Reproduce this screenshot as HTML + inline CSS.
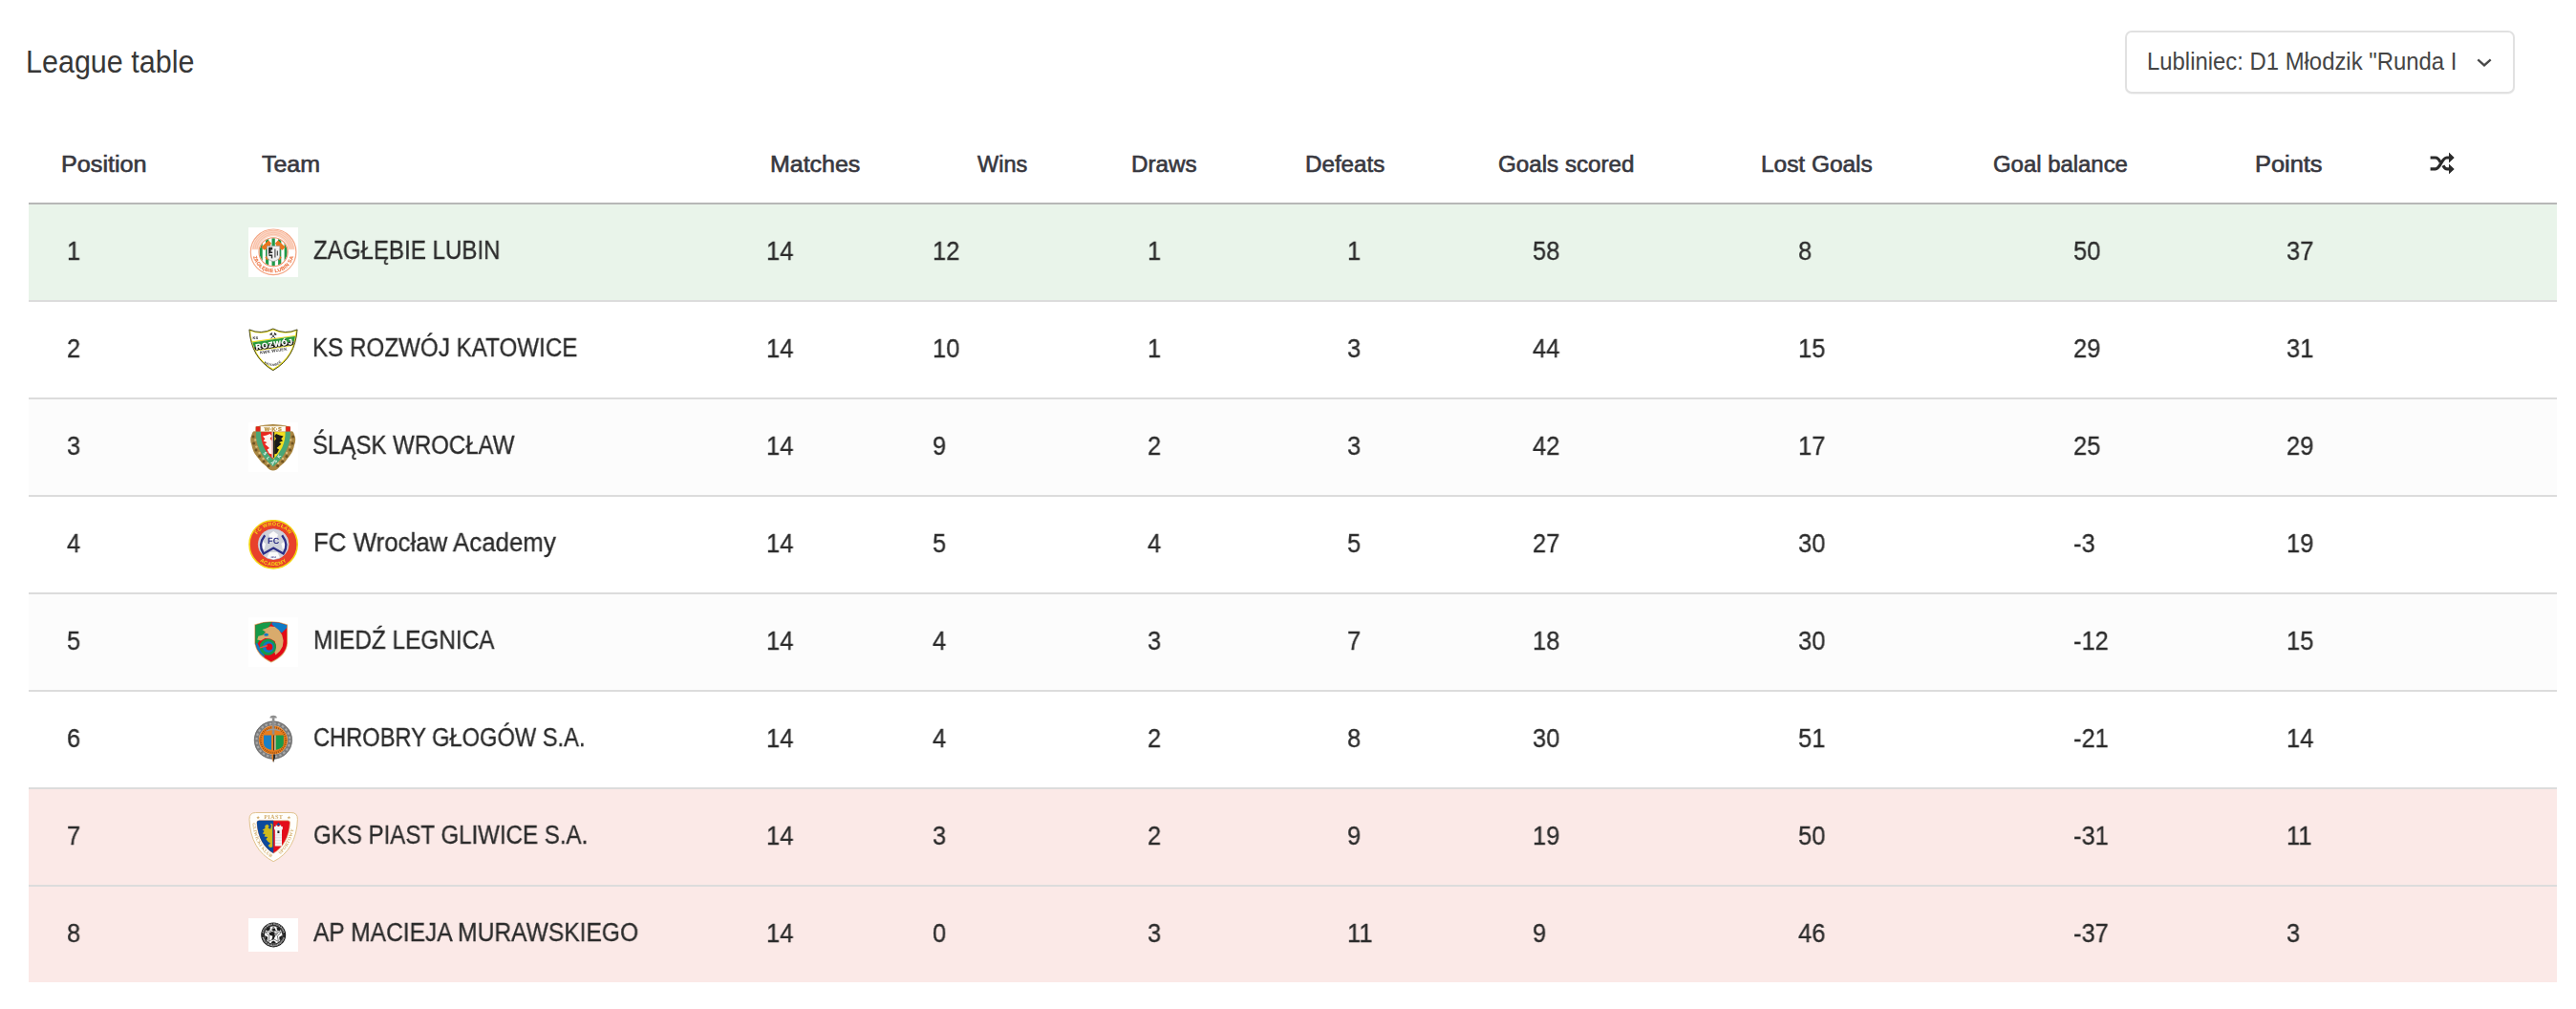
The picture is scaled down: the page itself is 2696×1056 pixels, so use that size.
<!DOCTYPE html>
<html lang="en"><head><meta charset="utf-8"><title>League table</title>
<style>
html,body{margin:0;padding:0;background:#fff}
body{width:2696px;height:1056px;position:relative;overflow:hidden;font-family:"Liberation Sans",sans-serif;color:#2d2d2d}
.t{position:absolute;white-space:nowrap;line-height:1;transform-origin:0 50%;margin:0;font-weight:400}
h2.t{font-size:33.8px;color:#373737}
.sel{position:absolute;left:2224px;top:32px;width:404px;height:62px;border:2px solid #e1e1e1;border-radius:7px;background:#fff;box-shadow:0 1px 1px rgba(0,0,0,.04)}
.sel .t{font-size:25.1px;color:#454545}
.sel svg{position:absolute;left:366px;top:27.2px}
table,thead,tbody,tr,th,td{display:block;margin:0;padding:0;border:0;border-spacing:0;text-align:left}
.tbl{position:absolute;left:30px;top:110px;width:2646px;border-collapse:collapse}
td.tm{display:contents}
.hd{position:absolute;left:0;top:0;width:2646px;height:102px;border-bottom:2px solid #b7b7b7}
.hd .t{font-size:24.4px;color:#38383f;-webkit-text-stroke:0.65px #38383f}
.r{position:absolute;left:0;width:2646px;height:100px;border-bottom:2px solid #dcdcdc}
.r.last{border-bottom:none}
.r .t{font-size:26.8px;top:35.5px;color:#2b2b2b;-webkit-text-stroke:0.3px #2b2b2b}.r .nm{top:34.5px}
.r .lg{position:absolute;left:230px;top:24px}.lg text{text-rendering:geometricPrecision}.r .t,.r .lg{will-change:transform}.r .lw{top:33px}
.g{background:#e9f4ea}.w{background:#fff}.s{background:#fcfcfc}.p{background:#fbe9e7}
</style></head>
<body>
<h2 class="t" style="left:27.10px;top:47.50px;transform:scaleX(0.9024)">League table</h2>
<div class="sel"><span class="t" style="left:21.00px;top:17.75px;transform:scaleX(0.9515)">Lubliniec: D1 Młodzik "Runda I</span><svg width="16" height="10" viewBox="0 0 16 10"><path d="M1.3 1.3 L8 7.4 L14.7 1.3" fill="none" stroke="#484848" stroke-width="2.3"/></svg></div>
<table class="tbl">
<thead><tr class="hd">
<th class="t" style="left:34.00px;top:49.70px;transform:scaleX(1.0321)">Position</th>
<th class="t" style="left:243.80px;top:49.70px;transform:scaleX(1.0227)">Team</th>
<th class="t" style="left:776.20px;top:49.70px;transform:scaleX(1.0221)">Matches</th>
<th class="t" style="left:993.30px;top:49.70px;transform:scaleX(0.9632)">Wins</th>
<th class="t" style="left:1154.20px;top:49.70px;transform:scaleX(0.9913)">Draws</th>
<th class="t" style="left:1335.90px;top:49.70px;transform:scaleX(0.9904)">Defeats</th>
<th class="t" style="left:1537.80px;top:49.70px;transform:scaleX(0.9916)">Goals scored</th>
<th class="t" style="left:1812.50px;top:49.70px;transform:scaleX(1.0008)">Lost Goals</th>
<th class="t" style="left:2056.40px;top:49.70px;transform:scaleX(0.9803)">Goal balance</th>
<th class="t" style="left:2330.30px;top:49.70px;transform:scaleX(1.0406)">Points</th>
<th class="ic"><svg class="ic" width="30" height="28" viewBox="0 0 30 28" style="position:absolute;left:2511px;top:48px"><g fill="none" stroke="#2b2b2b" stroke-width="3.2" stroke-linecap="butt"><path d="M2.6 18.9h5.2c5.2 0 6.6-11.9 12-11.9h3"/><path d="M2.6 7h5.2c2.6 0 4.2 2.4 5.3 4.7"/><path d="M15.9 15.2c1.1 2.1 2.3 3.7 4.4 3.7h2.5"/></g><path d="M22 1.6l5.7 5.4-5.7 5.4zM22 13.5l5.7 5.4-5.7 5.4z" fill="#2b2b2b"/></svg></th>
</tr></thead><tbody>
<tr class="r g" style="top:104px">
<td class="t" style="left:39.80px;transform:scaleX(0.9500)">1</td>
<td class="tm"><svg class="lg" width="52" height="52" viewBox="0 0 52 52"><rect width="52" height="52" fill="#fff"/>
<defs><clipPath id="z1"><circle cx="26.1" cy="25.8" r="14.6"/></clipPath><path id="z1t" d="M4.9 29.3A21.5 21.5 0 0 0 47.3 29.3"/></defs>
<circle cx="26.1" cy="25.8" r="23.8" fill="#fff" stroke="#f4a684" stroke-width="1.2"/>
<path d="M3.6 23.2A22.6 22.6 0 0 1 48.6 23.2L41.6 23.2A15.6 15.6 0 0 0 10.6 23.2Z" fill="#fbd5c3"/>
<g fill="none" stroke="#f7b79c" stroke-width="0.7"><path d="M5 22.5A21.2 21.2 0 0 1 47.2 22.5"/><path d="M7 22.5A19.2 19.2 0 0 1 45.2 22.5"/><path d="M9 22.5A17.2 17.2 0 0 1 43.2 22.5"/></g>
<g clip-path="url(#z1)"><rect x="10" y="10" width="33" height="32" fill="#fff"/><g fill="#1e9a49"><rect x="11.4" y="10" width="3.3" height="32"/><rect x="18" y="10" width="3.2" height="32"/><rect x="24.5" y="10" width="3.3" height="32"/><rect x="31.1" y="10" width="3.2" height="32"/><rect x="37.6" y="10" width="3.3" height="32"/></g></g>
<circle cx="26.1" cy="25.8" r="15.1" fill="none" stroke="#f0946c" stroke-width="1.1"/>
<g fill="#e8761f"><path d="M13.4 20.6L21 13.4L24 16.6L22.6 19.4L34.6 31.4L32.6 34.6L20 22L16.4 23.8Z"/><path d="M38.6 20.6L31 13.4L28 16.6L29.4 19.4L17.4 31.4L19.4 34.6L32 22L35.6 23.8Z"/></g>
<path d="M19.5 19.4H32.8V30.4Q32.8 34 26.1 35.6Q19.5 34 19.5 30.4Z" fill="#f1f1f1" stroke="#8f8f8f" stroke-width="0.6"/>
<path d="M21 20.8H25.2V23.6H23.6V25.4H25.2V27H22.2V28.6H25.2V32.6L23.8 32.2V30H21.4V27.6H21ZM27.4 22.6H28.4V31.4H27.4ZM29.8 24.6H30.8V29.6H29.8Z" fill="#2e2e2e"/>
<text font-family="Liberation Sans, sans-serif" font-weight="700" font-size="5.3" fill="#ee7544" stroke="#ee7544" stroke-width="0.12" letter-spacing="0.25"><textPath href="#z1t" startOffset="50%" text-anchor="middle">ZAGŁĘBIE LUBIN SA</textPath></text>
</svg><span class="t nm" style="left:298.00px;transform:scaleX(0.8992)">ZAGŁĘBIE LUBIN</span></td>
<td class="t" style="left:771.95px;transform:scaleX(0.9500)">14</td>
<td class="t" style="left:946.05px;transform:scaleX(0.9500)">12</td>
<td class="t" style="left:1171.35px;transform:scaleX(0.9500)">1</td>
<td class="t" style="left:1380.45px;transform:scaleX(0.9500)">1</td>
<td class="t" style="left:1573.80px;transform:scaleX(0.9500)">58</td>
<td class="t" style="left:1852.15px;transform:scaleX(0.9500)">8</td>
<td class="t" style="left:2139.70px;transform:scaleX(0.9500)">50</td>
<td class="t" style="left:2362.60px;transform:scaleX(0.9500)">37</td>
</tr>
<tr class="r w" style="top:206px">
<td class="t" style="left:39.80px;transform:scaleX(0.9500)">2</td>
<td class="tm"><svg class="lg" width="52" height="52" viewBox="0 0 52 52"><rect width="52" height="52" fill="#fff"/>
<defs><clipPath id="r2"><path d="M2.2 6.4Q13.5 11.6 25.8 5.6Q38.2 11.6 49.6 6.4C48.2 24 41 37 25.8 46C10.8 37 3.6 24 2.2 6.4Z"/></clipPath><path id="r2t" d="M13.4 37.4Q25.5 49.5 37.6 36.4"/></defs>
<path d="M0.9 4.9Q13.3 10.6 25.8 4Q38.4 10.6 51.1 4.9C49.6 24.5 42 38.2 25.8 47.7C9.8 38.2 2.3 24.5 0.9 4.9Z" fill="#e9de23" stroke="#3d3d14" stroke-width="0.9"/>
<path d="M2.2 6.4Q13.5 11.6 25.8 5.6Q38.2 11.6 49.6 6.4C48.2 24 41 37 25.8 46C10.8 37 3.6 24 2.2 6.4Z" fill="#fff"/>
<g clip-path="url(#r2)"><path d="M0 17.9L52 10.4V11.5L0 19Z" fill="#e9de23"/><path d="M0 19L52 11.5V16.7L0 24.2Z" fill="#2a9a3c"/><path d="M0 24.2L52 16.7V20.3L0 27.8Z" fill="#1d1d1b"/><path d="M0 27.8L52 20.3V21.1L0 28.6Z" fill="#e9de23"/></g>
<g font-family="Liberation Sans, sans-serif" font-weight="700">
<text x="4.6" y="15.2" font-size="4" fill="#1a1a1a">KS</text>
<text transform="translate(8.5 26.5) rotate(-8.2)" font-size="7.8" fill="#1d1d1b" stroke="#1d1d1b" stroke-width="0.5" letter-spacing="0.85">ROZWÓJ</text>
<text transform="translate(8.1 25.7) rotate(-8.2)" font-size="7.8" fill="#fff" stroke="#fff" stroke-width="0.4" letter-spacing="0.85">ROZWÓJ</text>
<text transform="translate(12.2 30.6) rotate(-8.2)" font-size="4.4" fill="#333" letter-spacing="0.15">KWK WUJEK</text>
<text font-size="3.5" fill="#3a3a3a" letter-spacing="0.25"><textPath href="#r2t" startOffset="50%" text-anchor="middle">KATOWICE</textPath></text></g>
<g stroke="#222" stroke-width="0.9" fill="none"><path d="M23.6 9.3L28.2 14.2M28.2 9.3L23.6 14.2"/><path d="M22.6 10.4L24.8 8.4M29.2 10.4L27 8.4" stroke-width="1.3"/></g>
</svg><span class="t nm" style="left:297.00px;transform:scaleX(0.9031)">KS ROZWÓJ KATOWICE</span></td>
<td class="t" style="left:771.95px;transform:scaleX(0.9500)">14</td>
<td class="t" style="left:946.05px;transform:scaleX(0.9500)">10</td>
<td class="t" style="left:1171.35px;transform:scaleX(0.9500)">1</td>
<td class="t" style="left:1380.45px;transform:scaleX(0.9500)">3</td>
<td class="t" style="left:1573.80px;transform:scaleX(0.9500)">44</td>
<td class="t" style="left:1852.15px;transform:scaleX(0.9500)">15</td>
<td class="t" style="left:2139.70px;transform:scaleX(0.9500)">29</td>
<td class="t" style="left:2362.60px;transform:scaleX(0.9500)">31</td>
</tr>
<tr class="r s" style="top:308px">
<td class="t" style="left:39.80px;transform:scaleX(0.9500)">3</td>
<td class="tm"><svg class="lg" width="52" height="52" viewBox="0 0 52 52"><rect width="52" height="52" fill="#fff"/>
<defs><path id="s3t" d="M10.6 22Q14.600 34.400 25.800 45Q37 34.400 41 22"/></defs>
<path d="M7.4 9.6Q4.6 8 3.4 13Q1 18 3.4 24Q4.6 31 9 36Q13 42 18.6 46Q22 50.6 25.8 50.6Q29.6 50.6 33 46Q38.6 42 42.4 36Q46.8 31 48 24Q50.4 18 48 13Q46.8 8 44 9.6L43.8 4.6Q25.8 -0.6 7.6 4.6Z" fill="#a98642"/>
<g fill="#6f5423"><circle cx="5" cy="15" r="1.5"/><circle cx="5.6" cy="22" r="1.5"/><circle cx="8" cy="29" r="1.5"/><circle cx="11.6" cy="35.4" r="1.5"/><circle cx="16" cy="41" r="1.5"/><circle cx="21" cy="45.6" r="1.5"/><circle cx="30.6" cy="45.6" r="1.5"/><circle cx="35.6" cy="41" r="1.5"/><circle cx="40" cy="35.4" r="1.5"/><circle cx="43.6" cy="29" r="1.5"/><circle cx="46" cy="22" r="1.5"/><circle cx="46.6" cy="15" r="1.5"/></g>
<g fill="#d9bd7c"><circle cx="7.4" cy="18.4" r="1.2"/><circle cx="8.4" cy="25.6" r="1.2"/><circle cx="11.6" cy="32" r="1.2"/><circle cx="15.6" cy="38" r="1.2"/><circle cx="20.4" cy="42.8" r="1.2"/><circle cx="31.2" cy="42.8" r="1.2"/><circle cx="36" cy="38" r="1.2"/><circle cx="40" cy="32" r="1.2"/><circle cx="43.2" cy="25.6" r="1.2"/><circle cx="44.2" cy="18.4" r="1.2"/></g>
<path d="M8 9.4H43.6Q45 30 25.8 46.4Q6.6 30 8 9.4Z" fill="#49a676"/>
<path d="M13 9.6H25.8V38.8Q12.6 27 13 9.6Z" fill="#e8281f"/><path d="M25.8 9.600H38.600Q39 27 25.800 38.800Z" fill="#f4e01f"/>
<path d="M24.6 10H25.8V37.6L24.6 36.6Z" fill="#fff"/><path d="M25.800 10H27.200V36.400L25.800 37.600Z" fill="#1b1b1b"/>
<path d="M15 14.6L19 13.4L22.6 12L24.4 14.4L22.6 17L24.6 19.6L24.600 33.600L21.600 32.600L19.600 28.400L22 27L19.600 24.800L17.200 22.800L19.400 21L15.600 19.400L17.400 17.200Z" fill="#fdf3ee"/>
<path d="M36.600 14.600L32.600 13.400L29 12L27.200 14.400L29 17L27.200 19.600L27.200 33.600L30 32.600L32 28.400L29.600 27L32 24.800L34.400 22.800L32.200 21L36 19.400L34.200 17.200Z" fill="#1b1b1b"/>
<path d="M7.800 4.600H43.800V9.600H7.800Z" fill="#e2231a"/><path d="M12.600 3.800H39V9.800H12.600Z" fill="#fffdf6" stroke="#b48f47" stroke-width="0.5"/>
<g font-family="Liberation Sans, sans-serif" font-weight="700"><text x="25.800" y="8.900" font-size="5.600" text-anchor="middle" fill="#b98f3a" stroke="#b98f3a" stroke-width="0.3" letter-spacing="0.3">W·K·S</text>
<text font-size="4.600" fill="#f2faf4" letter-spacing="3.500"><textPath href="#s3t" startOffset="50%" text-anchor="middle">ŚLĄSK</textPath></text></g>
</svg><span class="t nm" style="left:297.00px;transform:scaleX(0.8967)">ŚLĄSK WROCŁAW</span></td>
<td class="t" style="left:771.95px;transform:scaleX(0.9500)">14</td>
<td class="t" style="left:946.05px;transform:scaleX(0.9500)">9</td>
<td class="t" style="left:1171.35px;transform:scaleX(0.9500)">2</td>
<td class="t" style="left:1380.45px;transform:scaleX(0.9500)">3</td>
<td class="t" style="left:1573.80px;transform:scaleX(0.9500)">42</td>
<td class="t" style="left:1852.15px;transform:scaleX(0.9500)">17</td>
<td class="t" style="left:2139.70px;transform:scaleX(0.9500)">25</td>
<td class="t" style="left:2362.60px;transform:scaleX(0.9500)">29</td>
</tr>
<tr class="r w" style="top:410px">
<td class="t" style="left:39.80px;transform:scaleX(0.9500)">4</td>
<td class="tm"><svg class="lg" width="52" height="52" viewBox="0 0 52 52"><rect width="52" height="52" fill="#fff"/>
<defs><path id="f4a" d="M6.200 26A19.900 19.900 0 0 1 46 26"/><path id="f4b" d="M3.800 26A22.300 22.300 0 0 0 48.400 26"/></defs>
<circle cx="26.100" cy="25.800" r="25.100" fill="#e8412b" stroke="#f3d511" stroke-width="1.600"/>
<circle cx="26.200" cy="25.600" r="15.900" fill="#cfd2da" stroke="#c7d3ea" stroke-width="0.700"/>
<path d="M26.200 12L31 15.400L29.200 21H23.200L21.400 15.400ZM14 22L18 25L16.600 31L12 28ZM38.400 22L34.400 25L35.800 31L40.400 28ZM22 34H30.400L33 39.600L26.200 41.400L19.400 39.600Z" fill="#fafafa"/>
<path d="M17.200 16.200Q9.600 26 15.800 35.400L26.200 29.600L36.600 35.400Q42.800 26 35.200 16.200" fill="none" stroke="#2c2f86" stroke-width="2.300"/>
<g font-family="Liberation Sans, sans-serif" font-weight="700"><text x="26.200" y="24.800" font-size="9" text-anchor="middle" fill="#2c2f86" letter-spacing="0.300">FC</text>
<text x="26.200" y="39.600" font-size="2.400" text-anchor="middle" fill="#2c2f86">2014</text>
<text font-size="5.400" fill="#f6d913" letter-spacing="0.250"><textPath href="#f4a" startOffset="50%" text-anchor="middle">FC WROCŁAW</textPath></text>
<text font-size="5.400" fill="#f6d913" letter-spacing="0.450"><textPath href="#f4b" startOffset="50%" text-anchor="middle">ACADEMY</textPath></text></g>
</svg><span class="t nm" style="left:297.80px;transform:scaleX(0.9647)">FC Wrocław Academy</span></td>
<td class="t" style="left:771.95px;transform:scaleX(0.9500)">14</td>
<td class="t" style="left:946.05px;transform:scaleX(0.9500)">5</td>
<td class="t" style="left:1171.35px;transform:scaleX(0.9500)">4</td>
<td class="t" style="left:1380.45px;transform:scaleX(0.9500)">5</td>
<td class="t" style="left:1573.80px;transform:scaleX(0.9500)">27</td>
<td class="t" style="left:1852.15px;transform:scaleX(0.9500)">30</td>
<td class="t" style="left:2139.70px;transform:scaleX(0.9500)">-3</td>
<td class="t" style="left:2362.60px;transform:scaleX(0.9500)">19</td>
</tr>
<tr class="r s" style="top:512px">
<td class="t" style="left:39.80px;transform:scaleX(0.9500)">5</td>
<td class="tm"><svg class="lg" width="52" height="52" viewBox="0 0 52 52"><rect width="52" height="52" fill="#fff"/>
<defs><clipPath id="m5"><path d="M7.200 8.200Q24 1.800 40.200 8.200V27Q39.400 39.400 23.800 46.400Q9.200 39.400 7.200 27Z"/></clipPath></defs>
<path d="M6.400 7.400Q24 1 41 7.400V27.200Q40.200 40.200 23.800 47.400Q8.400 40.200 6.400 27.200Z" fill="#d9ab6c"/>
<g clip-path="url(#m5)"><rect width="52" height="52" fill="#e20a17"/><path d="M0 0H26L24 6L8 30L0 30Z" fill="#169a48"/><path d="M25.800 0H44L40.200 11L34.800 16.400L24.400 7.600Z" fill="#0e7ac4"/><path d="M0 28.600L9.400 27.200L17.200 40.800L8 46Z" fill="#0e7ac4"/></g>
<path d="M14.400 13L18.800 11.600L23 9.600L27.600 10L32 13.600L35.200 18.400L36.600 24.400L35.800 30.400L32.800 35.600L28.400 39.400L27.200 36L29 30L27.600 25L23 22.600L17.400 22L13 24.400L9.200 23.600L10.400 19.800L15.400 18.600L18 15.600Z" fill="#d9ab6c"/>
<circle cx="20.400" cy="31.200" r="8.600" fill="#169a48"/><circle cx="20.800" cy="31.200" r="5.900" fill="#0e7ac4"/><circle cx="21.800" cy="31" r="3.500" fill="#e20a17"/>
<path d="M11.600 31.400L19.600 28.800L20 30.400L12 32.600Z" fill="#e8503c"/><ellipse cx="18.600" cy="18.200" rx="2.400" ry="1.500" fill="#0e7ac4"/>
</svg><span class="t nm" style="left:297.70px;transform:scaleX(0.9093)">MIEDŹ LEGNICA</span></td>
<td class="t" style="left:771.95px;transform:scaleX(0.9500)">14</td>
<td class="t" style="left:946.05px;transform:scaleX(0.9500)">4</td>
<td class="t" style="left:1171.35px;transform:scaleX(0.9500)">3</td>
<td class="t" style="left:1380.45px;transform:scaleX(0.9500)">7</td>
<td class="t" style="left:1573.80px;transform:scaleX(0.9500)">18</td>
<td class="t" style="left:1852.15px;transform:scaleX(0.9500)">30</td>
<td class="t" style="left:2139.70px;transform:scaleX(0.9500)">-12</td>
<td class="t" style="left:2362.60px;transform:scaleX(0.9500)">15</td>
</tr>
<tr class="r w" style="top:614px">
<td class="t" style="left:39.80px;transform:scaleX(0.9500)">6</td>
<td class="tm"><svg class="lg" width="52" height="52" viewBox="0 0 52 52"><rect width="52" height="52" fill="#fff"/>
<defs><clipPath id="c6"><path d="M16 21.600H36.800V30Q36.800 35.600 26.400 37.400Q16 35.600 16 30Z"/></clipPath></defs>
<circle cx="25.900" cy="26.600" r="17.400" fill="none" stroke="#7c7c7c" stroke-width="4.800"/>
<circle cx="25.900" cy="26.600" r="17.400" fill="none" stroke="#a9a9a9" stroke-width="2.200" stroke-dasharray="2.400 2.150"/>
<circle cx="25.900" cy="26.600" r="19.700" fill="none" stroke="#5c5c5c" stroke-width="0.600"/>
<circle cx="25.900" cy="26.600" r="15" fill="#e87d1e"/>
<circle cx="25.900" cy="26.600" r="13.200" fill="none" stroke="#6b3a10" stroke-width="2" stroke-dasharray="0.800 1.300" opacity="0.75"/>
<path d="M15.800 21.200H37V30Q37 36 26.400 37.800Q15.800 36 15.800 30Z" fill="#e87d1e"/>
<g clip-path="url(#c6)"><rect x="15" y="20" width="9.200" height="19" fill="#1b80c4"/><rect x="28.400" y="20" width="9" height="19" fill="#189a4a"/><rect x="24.200" y="20" width="2" height="19" fill="#e87d1e"/><rect x="26.200" y="20" width="1.200" height="19" fill="#1d1d1b"/><rect x="27.400" y="20" width="1" height="19" fill="#e8e2d8"/></g>
<path d="M24.800 3.200H27.400V20.600H24.800Z" fill="#8e8e8e"/><path d="M22.400 3.400Q22.400 0.800 26.100 0.800Q29.800 0.800 29.800 3.400Z" fill="#8e8e8e"/><path d="M18.600 16.400Q26 12.800 33.600 16.400L33 17.600Q26 14.400 19.200 17.600Z" fill="#9a9a9a"/>
<path d="M23.900 43.600H28.300L26.100 50.300Z" fill="#7a7a7a"/><path d="M24.500 41.600H26.200L26.100 49.800L24.500 45Z" fill="#e87d1e"/><path d="M26.200 41.600H27.800V45L26.100 49.800Z" fill="#1d1d1b"/>
</svg><span class="t nm" style="left:297.80px;transform:scaleX(0.8832)">CHROBRY GŁOGÓW S.A.</span></td>
<td class="t" style="left:771.95px;transform:scaleX(0.9500)">14</td>
<td class="t" style="left:946.05px;transform:scaleX(0.9500)">4</td>
<td class="t" style="left:1171.35px;transform:scaleX(0.9500)">2</td>
<td class="t" style="left:1380.45px;transform:scaleX(0.9500)">8</td>
<td class="t" style="left:1573.80px;transform:scaleX(0.9500)">30</td>
<td class="t" style="left:1852.15px;transform:scaleX(0.9500)">51</td>
<td class="t" style="left:2139.70px;transform:scaleX(0.9500)">-21</td>
<td class="t" style="left:2362.60px;transform:scaleX(0.9500)">14</td>
</tr>
<tr class="r p" style="top:716px">
<td class="t" style="left:39.80px;transform:scaleX(0.9500)">7</td>
<td class="tm"><svg class="lg" width="52" height="52" viewBox="0 0 52 52">
<defs><path id="p7l" d="M4.300 10.500C5.200 28 12.500 40.500 24.600 48.400"/><path id="p7r" d="M27.800 48.400C39.900 40.500 47.200 28 48.100 10.500"/></defs>
<path d="M7.600 0.500H44.800Q51.600 0.500 51.400 7.600C50.800 28 42 44 26.200 51.700C10.400 44 1.600 28 1 7.600Q0.800 0.500 7.600 0.500Z" fill="#fffefb" stroke="#dcbc82" stroke-width="0.900"/>
<path d="M11.200 8.800H41.200Q43.800 8.800 43.500 11.400C42.700 26 36 37.400 26.200 43C16.400 37.400 9.700 26 8.900 11.400Q8.600 8.800 11.200 8.800Z" fill="#e30d1a" stroke="#dcbc82" stroke-width="0.700"/>
<path d="M11.200 8.800H26.200V43C16.400 37.400 9.700 26 8.900 11.400Q8.600 8.800 11.200 8.800Z" fill="#0c4a9c"/>
<path d="M17.400 14L19.800 12.800L21.600 14.400L20.600 16.600L23.200 17.800L24 14L22.800 11.800L25.200 12.400V36.400L22.600 37L20.600 35L23 32.400L20.600 31L18.400 28.200L20.200 26L16.600 25.600L17.600 23L14.800 22.400L16.600 19.800L14.600 18.600L17.400 17Z" fill="#cfbb1c"/>
<path d="M27 15H28.600V13.600H30.400V15H32.400V13.600H34.200V15H35.800V18.200H35V35.400H27.800V18.200H27Z" fill="#f4f4f4"/><path d="M29.200 13.800L31.400 10.800L33.600 13.800Z" fill="#0c4a9c"/><rect x="30.400" y="19.400" width="2" height="2.600" fill="#222"/>
<g fill="#d9dde0"><rect x="28" y="23.600" width="6.800" height="0.700"/><rect x="28" y="26.400" width="6.800" height="0.700"/><rect x="28" y="29.200" width="6.800" height="0.700"/><rect x="28" y="32" width="6.800" height="0.700"/></g>
<g font-family="Liberation Serif, serif" font-weight="700" fill="#d2ad6c"><text x="26.200" y="6.700" font-size="6.300" text-anchor="middle" letter-spacing="0.300">PIAST</text><text x="10.200" y="7" font-size="4.200" text-anchor="middle">★</text><text x="42.400" y="7" font-size="4.200" text-anchor="middle">★</text>
<text font-size="4.900" letter-spacing="0.200"><textPath href="#p7l" startOffset="50%" text-anchor="middle">GLIWICKI KLUB</textPath></text><text font-size="4.900" letter-spacing="0.350"><textPath href="#p7r" startOffset="50%" text-anchor="middle">SPORTOWY</textPath></text></g>
</svg><span class="t nm" style="left:297.80px;transform:scaleX(0.8987)">GKS PIAST GLIWICE S.A.</span></td>
<td class="t" style="left:771.95px;transform:scaleX(0.9500)">14</td>
<td class="t" style="left:946.05px;transform:scaleX(0.9500)">3</td>
<td class="t" style="left:1171.35px;transform:scaleX(0.9500)">2</td>
<td class="t" style="left:1380.45px;transform:scaleX(0.9500)">9</td>
<td class="t" style="left:1573.80px;transform:scaleX(0.9500)">19</td>
<td class="t" style="left:1852.15px;transform:scaleX(0.9500)">50</td>
<td class="t" style="left:2139.70px;transform:scaleX(0.9500)">-31</td>
<td class="t" style="left:2362.60px;transform:scaleX(0.9500)">11</td>
</tr>
<tr class="r p last" style="top:818px">
<td class="t" style="left:39.80px;transform:scaleX(0.9500)">8</td>
<td class="tm"><svg class="lg lw" width="52" height="35" viewBox="0 0 52 35"><rect width="52" height="35" fill="#fff"/>
<defs><path id="a8t" d="M15.700 17.400A10.500 10.500 0 0 1 36.700 17.400"/><path id="a8b" d="M14.300 17.400A11.900 11.900 0 0 0 38.100 17.400"/></defs>
<circle cx="26.200" cy="17.400" r="12.400" fill="#2e2e2e" stroke="#1e1e1e" stroke-width="1.200"/>
<circle cx="26.200" cy="17.400" r="9.200" fill="#fafafa"/>
<g font-family="Liberation Sans, sans-serif" font-weight="700" fill="#e6e6e6" font-size="2.300"><text letter-spacing="0.150"><textPath href="#a8t" startOffset="50%" text-anchor="middle">AKADEMIA PIŁKARSKA</textPath></text><text letter-spacing="0.150"><textPath href="#a8b" startOffset="50%" text-anchor="middle">MACIEJA MURAWSKIEGO</textPath></text></g>
<path d="M26.200 8.600L28.700 13.700L34.600 14.600L30.400 18.600L31.400 24.400L26.200 21.700L21 24.400L22 18.600L17.800 14.600L23.700 13.700Z" fill="#fff" stroke="#222" stroke-width="0.600"/>
<g fill="#1c1c1c"><path d="M19 10.400L23 9L22.400 12.600L19.200 13.600Z"/><path d="M33.400 10.400L29.400 9L30 12.600L33.200 13.600Z"/><path d="M17.200 18L20.200 19.800L19.600 23.600L17.600 21.600Z"/><path d="M35.200 18L32.200 19.800L32.800 23.600L34.800 21.600Z"/><path d="M23.600 25.200L26.200 23.600L28.800 25.200L27.600 26.600H24.800Z"/>
<circle cx="26.600" cy="12.200" r="1.600"/><path d="M24.600 14L27.400 14.400L28 18.800L26.200 22.600L24.400 22.400L25.400 18.800L22 17.600L21.400 15.600Z"/></g><path d="M27.600 15.800L31.400 15.200L29 18.200L27 17.800Z" fill="#9a9a9a" stroke="#333" stroke-width="0.300"/>
</svg><span class="t nm" style="left:298.00px;transform:scaleX(0.9172)">AP MACIEJA MURAWSKIEGO</span></td>
<td class="t" style="left:771.95px;transform:scaleX(0.9500)">14</td>
<td class="t" style="left:946.05px;transform:scaleX(0.9500)">0</td>
<td class="t" style="left:1171.35px;transform:scaleX(0.9500)">3</td>
<td class="t" style="left:1380.45px;transform:scaleX(0.9500)">11</td>
<td class="t" style="left:1573.80px;transform:scaleX(0.9500)">9</td>
<td class="t" style="left:1852.15px;transform:scaleX(0.9500)">46</td>
<td class="t" style="left:2139.70px;transform:scaleX(0.9500)">-37</td>
<td class="t" style="left:2362.60px;transform:scaleX(0.9500)">3</td>
</tr>
</tbody></table>
</body></html>
